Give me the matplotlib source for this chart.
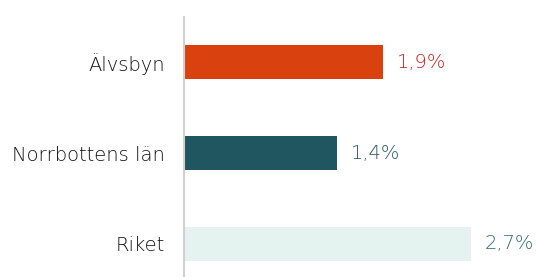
import matplotlib
matplotlib.use("Agg")
import matplotlib.pyplot as plt

categories = ["Älvsbyn", "Norrbottens län", "Riket"]
values = [1.87, 1.44, 2.70]
barColors = ["#d9410f", "#1f5660", "#e4f3ef"]
labelColors = ["#c8201a", "#23585f", "#2f6a72"]

plt.rcParams["font.family"] = ["DejaVu Sans"]

fig = plt.figure(figsize=(5.37, 2.77), dpi=100)
ax = fig.add_axes([184 / 537, 0.0, 1 - 184 / 537, 260 / 277])

pos = list(range(len(categories)))
ax.barh(pos, values, height=0.37, color=barColors)

for p, v, c in zip(pos, values, labelColors):
    txt = f"{v:.1f}".replace(".", ",") + "%"
    ax.text(v + 0.13, p, txt, color=c, fontsize=14, fontweight="light",
            va="center", ha="left")

ax.set_xlim(0, 3.32)
ax.set_ylim(2.363, -0.495)
ax.set_yticks(pos)
ax.set_yticklabels(categories, fontsize=14, fontweight="light", color="#111111")
ax.tick_params(axis="y", length=0, pad=14)
ax.set_xticks([])

for s in ["top", "right", "bottom"]:
    ax.spines[s].set_visible(False)
ax.spines["left"].set_color("#d0d0d0")
ax.spines["left"].set_linewidth(1.5)

fig.savefig("out.png", dpi=100)
